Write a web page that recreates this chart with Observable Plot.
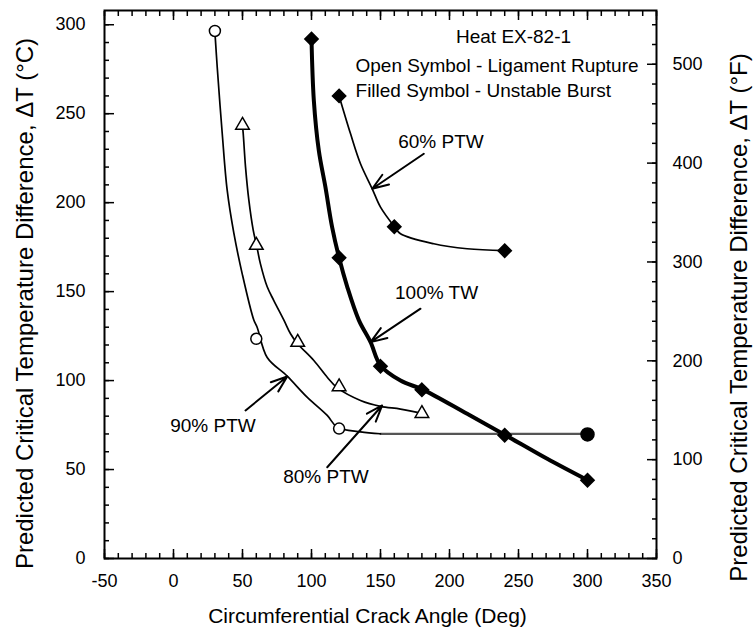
<!DOCTYPE html>
<html>
<head>
<meta charset="utf-8">
<script src="https://cdn.jsdelivr.net/npm/d3@7"></script>
<script src="https://cdn.jsdelivr.net/npm/@observablehq/plot@0.6"></script>
<style>
  html, body { margin: 0; padding: 0; background: #fff; }
</style>
</head>
<body>
<div id="chart"></div>
<script>
// ---------- data ----------
// 90% PTW curve (open circles, ligament rupture) and its flat burst segment
const curve90Angle = [30, 31.7, 35.3, 38.9, 43.7, 49.8, 58.2, 60.6, 67.9, 82.4, 96.8, 111.4, 118.6, 135.5, 150];
const curve90DT    = [296, 276, 239, 207, 183, 160, 134, 130, 113, 102.5, 90.7, 80.4, 73.8, 71.2, 70.1];
const flat90Angle  = [150, 300];
const flat90DT     = [70, 70];
const open90Angle  = [30, 60, 120];
const open90DT     = [296.5, 123.5, 73];
const filled90Angle = [300];
const filled90DT    = [69.7];

// 80% PTW curve (open triangles)
const curve80Angle = [50, 50.5, 52.2, 54.6, 57.8, 60.2, 63, 67.9, 72.7, 80, 84.8, 89.6, 101.7, 111.4, 118.6, 135.5, 150, 164.5, 181];
const curve80DT    = [243, 239, 220, 201.4, 184.4, 176, 165.6, 152.7, 145, 134, 126.3, 121, 111.3, 101.9, 96, 88.8, 85.5, 84, 81.5];
const open80Angle  = [50, 60, 90, 120, 180];
const open80DT     = [243.5, 176, 121.5, 96.5, 81.5];

// 100% TW curve (filled diamonds, thick)
const curve100Angle = [100, 101.7, 105.3, 110.1, 114.9, 120, 125.9, 134.3, 142.8, 150, 164.5, 181, 212.8, 240.6, 270.8, 300];
const curve100DT    = [292, 257.4, 229.3, 208.7, 186.4, 169, 152.7, 134, 121.6, 108.5, 100, 94.8, 81.3, 69.3, 56, 44];
const filled100Angle = [100, 120, 150, 180, 240, 300];
const filled100DT    = [292, 169, 108, 94.8, 69.3, 44];

// 60% PTW curve (filled diamonds)
const curve60Angle = [120, 128.3, 135.5, 144, 150, 160.1, 164.5, 188.6, 212.8, 240];
const curve60DT    = [260, 238.7, 221.9, 207.8, 197.5, 186.5, 182.5, 176.9, 174.1, 173];
const filled60Angle = [120, 160, 240];
const filled60DT    = [260, 186.5, 173];

// annotations
const curveLabels  = ["60% PTW", "100% TW", "90% PTW", "80% PTW"];
const labelAngle   = [193.8, 190.6, 28.6, 110.5];
const labelDT      = [234.4, 149.5, 74.8, 45.7];
const arrowFromAngle = [181.4, 179, 52.2, 111.4];
const arrowFromDT    = [227.5, 140.4, 83.2, 51.3];
const arrowToAngle   = [144, 142.8, 82.4, 151.2];
const arrowToDT      = [207.8, 121.6, 102.3, 86];

const heatText = "Heat EX-82-1";
const legendLines = ["Open Symbol - Ligament Rupture", "Filled Symbol - Unstable Burst"];
const legendDT = [277, 263];

// axes
const xTicks = [-50, 0, 50, 100, 150, 200, 250, 300, 350];
const yTicksC = [0, 50, 100, 150, 200, 250, 300];
const yTicksF = [0, 100, 200, 300, 400, 500];
const xLabel = "Circumferential Crack Angle (Deg)";
const yLabelC = "Predicted Critical Temperature Difference, \u0394T (\u00B0C)";
const yLabelF = "Predicted Critical Temperature Difference, \u0394T (\u00B0F)";

// ---------- build ----------
const pts = (xs, ys) => xs.map((x, i) => ({x, y: ys[i]}));
const xMinor = d3.range(-50, 351, 10);
const yMinorC = d3.range(0, 301, 10);
const yMinorF = d3.range(0, 541, 20).map(f => f / 1.8);
const fToC = f => f / 1.8;

const font = "'Liberation Sans', Arial, Helvetica, sans-serif";

const chart = Plot.plot({
  width: 754,
  height: 632,
  marginLeft: 104,
  marginRight: 98,
  marginTop: 10,
  marginBottom: 74,
  style: {fontFamily: font, fontSize: "18px", color: "black", background: "white", overflow: "visible"},
  x: {domain: [-50, 350], label: null},
  y: {domain: [0, 308], label: null},
  marks: [
    // minor ticks
    Plot.axisX({anchor: "bottom", ticks: xMinor, tickSize: -5, text: null, strokeWidth: 1.5, label: null}),
    Plot.axisX({anchor: "top", ticks: xMinor, tickSize: -5, text: null, strokeWidth: 1.5, label: null}),
    Plot.axisY({anchor: "left", ticks: yMinorC, tickSize: -5, text: null, strokeWidth: 1.5, label: null}),
    Plot.axisY({anchor: "right", ticks: yMinorF, tickSize: -5, text: null, strokeWidth: 1.5, label: null}),
    // major ticks
    Plot.axisX({anchor: "bottom", ticks: xTicks, tickSize: -9, text: null, strokeWidth: 1.5, label: null}),
    Plot.axisX({anchor: "top", ticks: xTicks, tickSize: -9, text: null, strokeWidth: 1.5, label: null}),
    Plot.axisY({anchor: "left", ticks: yTicksC, tickSize: -10, text: null, strokeWidth: 1.5, label: null}),
    Plot.axisY({anchor: "right", ticks: yTicksF.map(fToC), tickSize: -10, text: null, strokeWidth: 1.5, label: null}),
    // tick labels
    Plot.axisX({anchor: "bottom", ticks: xTicks, tickSize: 0, tickPadding: 16, fontSize: 18, label: null,
      tickFormat: d => String(d)}),
    Plot.axisY({anchor: "left", ticks: yTicksC, tickSize: 0, tickPadding: 19, fontSize: 18, label: null,
      tickFormat: d => String(d)}),
    Plot.axisY({anchor: "right", ticks: yTicksF.map(fToC), tickSize: 0, tickPadding: 16, fontSize: 18, label: null,
      tickFormat: d => String(Math.round(d * 1.8))}),
    Plot.frame({stroke: "black", strokeWidth: 2}),

    // curves
    Plot.line(pts(flat90Angle, flat90DT), {x: "x", y: "y", stroke: "#555", strokeWidth: 2.2}),
    Plot.line(pts(curve90Angle, curve90DT), {x: "x", y: "y", curve: "catmull-rom", stroke: "black", strokeWidth: 1.7}),
    Plot.line(pts(curve80Angle, curve80DT), {x: "x", y: "y", curve: "catmull-rom", stroke: "black", strokeWidth: 1.7}),
    Plot.line(pts(curve60Angle, curve60DT), {x: "x", y: "y", curve: "catmull-rom", stroke: "black", strokeWidth: 1.7}),
    Plot.line(pts(curve100Angle, curve100DT), {x: "x", y: "y", curve: "catmull-rom", stroke: "black", strokeWidth: 4}),

    // symbols
    Plot.dot(pts(open90Angle, open90DT), {x: "x", y: "y", symbol: "circle", r: 5.5, fill: "white", stroke: "black", strokeWidth: 1.5}),
    Plot.dot(pts(filled90Angle, filled90DT), {x: "x", y: "y", symbol: "circle", r: 6.5, fill: "black", stroke: "black"}),
    Plot.dot(pts(open80Angle, open80DT), {x: "x", y: "y", symbol: "triangle2", r: 6.5, fill: "white", stroke: "black", strokeWidth: 1.5}),
    Plot.dot(pts(filled100Angle, filled100DT), {x: "x", y: "y", symbol: "diamond2", r: 6, fill: "black", stroke: "black"}),
    Plot.dot(pts(filled60Angle, filled60DT), {x: "x", y: "y", symbol: "diamond2", r: 6, fill: "black", stroke: "black"}),

    // arrows + labels
    Plot.arrow(curveLabels.map((t, i) => i), {
      x1: i => arrowFromAngle[i], y1: i => arrowFromDT[i],
      x2: i => arrowToAngle[i], y2: i => arrowToDT[i],
      stroke: "black", strokeWidth: 2, headLength: 13, headAngle: 40
    }),
    Plot.text(curveLabels, {x: (d, i) => labelAngle[i], y: (d, i) => labelDT[i], text: d => d, fontSize: 19, fill: "black"}),
    Plot.text([heatText], {x: 246.4, y: 293.4, text: d => d, fontSize: 19, fill: "black"}),
    Plot.text(legendLines, {x: 131.9, y: (d, i) => legendDT[i], text: d => d, textAnchor: "start", fontSize: 19, fill: "black"}),

    // axis titles
    Plot.text([xLabel], {frameAnchor: "bottom", textAnchor: "middle", lineAnchor: "top", dx: -13, dy: 50, text: d => d, fontSize: 21, fill: "black"}),
    Plot.text([yLabelC], {frameAnchor: "left", textAnchor: "middle", lineAnchor: "middle", dx: -79, dy: 19, rotate: -90, text: d => d, fontSize: 24, fill: "black"}),
    Plot.text([yLabelF], {frameAnchor: "right", textAnchor: "middle", lineAnchor: "middle", dx: 83, dy: 33, rotate: -90, text: d => d, fontSize: 24, fill: "black"})
  ]
});
document.getElementById("chart").appendChild(chart);
</script>
</body>
</html>
